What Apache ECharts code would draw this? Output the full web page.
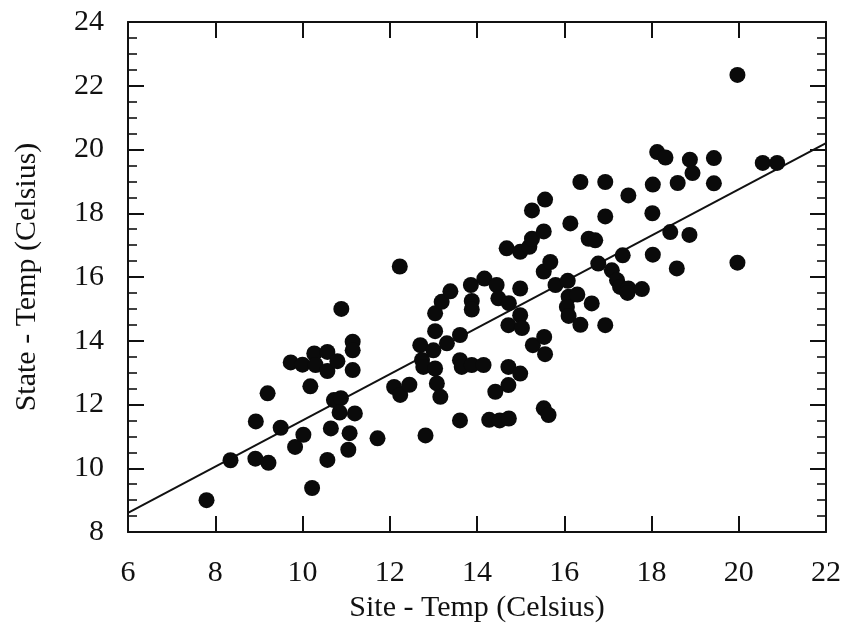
<!DOCTYPE html>
<html>
<head>
<meta charset="utf-8">
<script src="https://cdn.jsdelivr.net/npm/echarts@6/dist/echarts.min.js"></script>
<style>
html,body{margin:0;padding:0;background:#fff;}
#chart{width:847px;height:629px;}
</style>
</head>
<body>
<div id="chart"></div>
<script>
// Site temperature (x, Celsius)
const siteTemp = [
  7.8, 8.35, 8.93, 8.92, 9.22, 9.2, 9.5, 9.73, 9.83, 10.02,
  10.0, 10.18, 10.22, 10.27, 10.3, 10.57, 10.57, 10.8, 10.57, 10.65,
  10.72, 10.88, 10.85, 10.89, 11.15, 11.15, 11.15, 11.2, 11.08, 11.05,
  11.72, 12.1, 12.24, 12.45, 12.23, 12.82, 12.7, 12.74, 12.77, 13.0,
  13.04, 13.08, 13.16, 13.04, 13.04, 13.19, 13.39, 13.31, 13.61, 13.61,
  13.65, 13.88, 14.15, 13.61, 13.86, 13.88, 13.88, 14.17, 14.45, 14.49,
  14.73, 14.99, 14.72, 14.99, 15.03, 14.72, 14.99, 14.72, 14.42, 14.28,
  14.52, 14.73, 15.28, 15.54, 15.56, 15.53, 15.64, 14.68, 14.99, 15.2,
  15.26, 15.53, 15.26, 15.56, 15.53, 15.68, 15.8, 16.08, 16.1, 16.3,
  16.06, 16.1, 16.37, 16.63, 16.94, 16.14, 16.37, 16.94, 16.94, 16.56,
  16.71, 16.78, 17.09, 17.21, 17.28, 17.47, 17.45, 17.78, 17.34, 17.47,
  18.03, 18.02, 18.03, 18.13, 18.32, 18.43, 18.6, 18.58, 18.88, 18.94,
  18.87, 19.43, 19.43, 19.97, 19.97, 20.55, 20.88
];
// State temperature (y, Celsius)
const stateTemp = [
  9.0, 10.25, 11.47, 10.3, 10.17, 12.35, 11.27, 13.32, 10.67, 11.05,
  13.25, 12.57, 9.38, 13.6, 13.24, 13.65, 13.05, 13.36, 10.26, 11.25,
  12.14, 12.2, 11.75, 15.0, 13.97, 13.7, 13.08, 11.72, 11.1, 10.58,
  10.94, 12.55, 12.3, 12.62, 16.33, 11.03, 13.86, 13.4, 13.18, 13.7,
  13.13, 12.66, 12.24, 14.3, 14.86, 15.22, 15.55, 13.92, 14.18, 13.39,
  13.18, 13.24, 13.24, 11.5, 15.75, 15.25, 14.98, 15.95, 15.75, 15.33,
  15.18, 15.64, 14.49, 14.8, 14.4, 13.18, 12.97, 12.61, 12.4, 11.52,
  11.5, 11.56, 13.86, 14.12, 13.58, 11.88, 11.67, 16.9, 16.79, 16.95,
  17.2, 17.43, 18.09, 18.43, 16.17, 16.47, 15.75, 15.88, 15.38, 15.45,
  15.06, 14.78, 14.5, 15.17, 14.49, 17.68, 18.98, 18.98, 17.9, 17.2,
  17.15, 16.42, 16.21, 15.9, 15.69, 15.64, 15.5, 15.62, 16.68, 18.56,
  18.9, 18.0, 16.7, 19.92, 19.75, 17.41, 18.95, 16.27, 19.68, 19.26,
  17.32, 19.73, 18.94, 22.34, 16.45, 19.58, 19.58
];
// Regression line end points
const fitX = [6, 22];
const fitY = [8.6, 20.2];
// Axis ranges / ticks
const xMin = 6, xMax = 22, xStep = 2;
const yMin = 8, yMax = 24, yStep = 2;

const FONT = 'Liberation Serif';
const points = siteTemp.map((x, i) => [x, stateTemp[i]]);
const fitLine = fitX.map((x, i) => [x, fitY[i]]);

const lineStyle = {color: '#111', width: 2};
function xAx(pos, showLabel) {
  return {
    type: 'value', position: pos, min: xMin, max: xMax, interval: xStep,
    name: showLabel ? 'Site - Temp (Celsius)' : '',
    nameLocation: 'middle', nameGap: 47,
    nameTextStyle: {fontFamily: FONT, fontSize: 30, color: '#111'},
    axisLine: {show: true, onZero: false, lineStyle: lineStyle},
    axisTick: {show: true, inside: true, length: 16, lineStyle: lineStyle},
    axisLabel: {show: showLabel, fontFamily: FONT, fontSize: 30, color: '#111', margin: 26},
    splitLine: {show: false}
  };
}
function yAx(pos, showLabel) {
  return {
    type: 'value', position: pos, min: yMin, max: yMax, interval: yStep,
    name: showLabel ? 'State - Temp (Celsius)' : '',
    nameLocation: 'middle', nameGap: 86, nameRotate: 90,
    nameTextStyle: {fontFamily: FONT, fontSize: 30, color: '#111'},
    axisLine: {show: true, onZero: false, lineStyle: lineStyle},
    axisTick: {show: true, inside: true, length: 16, lineStyle: lineStyle},
    minorTick: {show: true, splitNumber: 4, length: 9, lineStyle: {color: '#111', width: 1.6}},
    axisLabel: {show: showLabel, fontFamily: FONT, fontSize: 30, color: '#111', margin: 24},
    splitLine: {show: false},
    minorSplitLine: {show: false}
  };
}

const chart = echarts.init(document.getElementById('chart'), null, {renderer: 'canvas'});
chart.setOption({
  backgroundColor: '#fff',
  animation: false,
  grid: {left: 128, right: 21, top: 22, bottom: 97, containLabel: false},
  xAxis: [xAx('bottom', true), xAx('top', false)],
  yAxis: [yAx('left', true), yAx('right', false)],
  series: [
    {
      type: 'line', data: fitLine, xAxisIndex: 0, yAxisIndex: 0,
      symbol: 'none', lineStyle: {color: '#111', width: 2}, z: 2, silent: true
    },
    {
      type: 'scatter', data: points, xAxisIndex: 0, yAxisIndex: 0,
      symbol: 'circle', symbolSize: 16,
      itemStyle: {color: '#0a0a0a', opacity: 1}, z: 3
    }
  ]
});
</script>
</body>
</html>
